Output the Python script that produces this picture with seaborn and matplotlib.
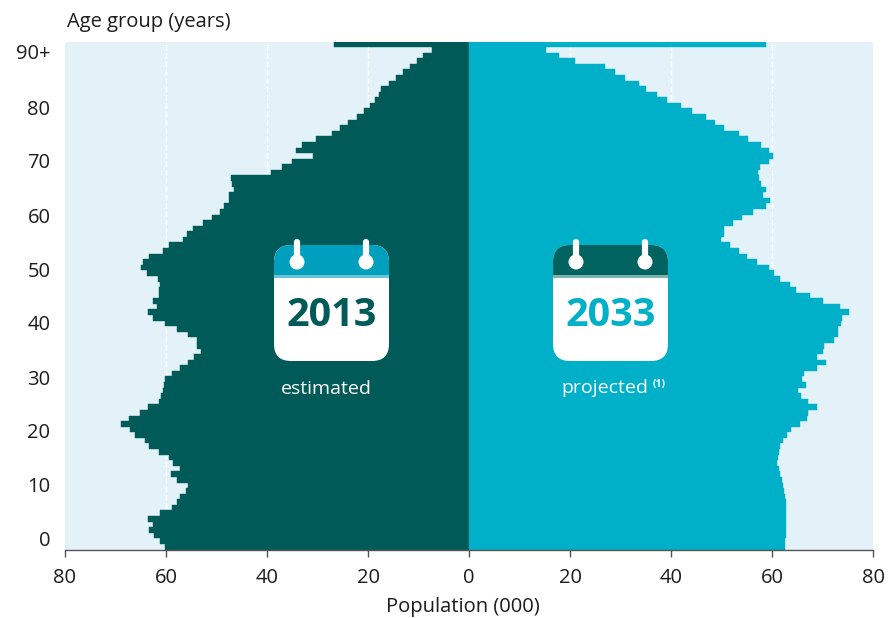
import numpy as np
import pandas as pd
import matplotlib.pyplot as plt
import seaborn as sns
from matplotlib.patches import FancyBboxPatch, Rectangle, Circle

# population (000) by single year of age, from age 0 up to 90+
ages = list(range(0, 91))
pop_2013 = [
    60.2, 61.2, 62.3, 63.3, 62.6, 63.5, 61.2, 58.9, 57.9, 57.3,
    56.0, 55.7, 57.9, 59.0, 57.3, 58.6, 59.5, 61.3, 63.3, 64.2,
    66.2, 67.2, 69.0, 67.3, 65.2, 63.5, 61.3, 61.0, 60.5, 60.4,
    60.2, 58.9, 57.3, 55.7, 54.4, 53.1, 53.8, 53.9, 55.7, 57.9,
    60.2, 62.6, 63.6, 61.8, 62.5, 61.3, 61.3, 61.2, 61.5, 63.7,
    65.0, 64.5, 63.3, 60.5, 59.5, 56.7, 55.9, 54.6, 52.6, 50.9,
    49.3, 48.5, 47.5, 47.5, 46.5, 46.9, 47.2, 39.3, 37.0, 35.0,
    30.9, 34.2, 33.1, 30.3, 27.1, 25.6, 24.0, 22.1, 20.8, 19.6,
    18.7, 17.8, 17.5, 15.8, 14.5, 13.0, 11.7, 10.3, 9.2, 7.4,
    26.7,
]
pop_2033 = [
    62.6, 62.6, 62.7, 62.7, 62.8, 62.8, 62.8, 62.8, 62.7, 62.6,
    62.4, 62.1, 62.0, 61.6, 61.3, 60.9, 61.1, 61.3, 61.5, 62.1,
    63.0, 63.7, 65.6, 67.0, 67.2, 68.9, 67.2, 65.7, 65.2, 66.7,
    66.0, 66.4, 69.0, 70.6, 69.0, 70.0, 70.3, 72.2, 73.0, 73.0,
    73.6, 73.8, 75.3, 73.5, 70.0, 67.5, 64.7, 63.5, 61.6, 60.4,
    59.4, 57.0, 55.0, 53.4, 51.7, 49.9, 50.4, 50.4, 52.2, 54.0,
    56.3, 58.8, 59.6, 58.3, 58.8, 57.8, 57.4, 57.3, 57.6, 59.4,
    60.2, 59.4, 57.8, 55.2, 53.5, 50.4, 48.7, 46.9, 44.1, 42.0,
    39.3, 37.2, 35.1, 33.6, 30.8, 29.0, 26.9, 20.9, 17.9, 15.2,
    58.8,
]
x_ticks = [-80, -60, -40, -20, 0, 20, 40, 60, 80]
x_labels = ["80", "60", "40", "20", "0", "20", "40", "60", "80"]
age_labels = ["0", "10", "20", "30", "40", "50", "60", "70", "80", "90+"]
age_label_pos = [1.43, 11.1, 20.8, 30.4, 40.1, 49.6, 59.4, 69.1, 78.6, 88.7]

DARK = "#005a58"
TEAL = "#00b0c8"
BACK = "#e3f2f8"
TEXT = "#1d1d1b"
FS = 14.5

sns.set_theme(style="white")
plt.rcParams["font.family"] = ["Open Sans", "DejaVu Sans"]

W, H = 888, 618
fig = plt.figure(figsize=(W / 100, H / 100), dpi=100)
ax = fig.add_axes([65 / W, 1 - 549.5 / H, 808 / W, 508 / H])
ax.set_facecolor(BACK)

df = pd.DataFrame({"age": ages, "left": -np.array(pop_2013), "right": pop_2033})
for col, colour in [("left", DARK), ("right", TEAL)]:
    sns.barplot(data=df, x=col, y="age", orient="y", native_scale=True, width=1,
                color=colour, saturation=1, edgecolor=colour, linewidth=0.3, ax=ax)

ax.set_xlim(-80, 80)
ax.set_ylim(-0.5, 90.5)
ax.set_xticks(x_ticks)
ax.set_xticklabels(x_labels)
ax.set_yticks(age_label_pos)
ax.set_yticklabels(age_labels)
ax.tick_params(axis="x", length=5, width=1, color="#555555", labelsize=FS,
               labelcolor=TEXT, pad=8, bottom=True)
ax.tick_params(axis="y", length=0, labelsize=FS, labelcolor=TEXT, pad=10.5)
ax.set_xlabel("Population (000)", fontsize=FS, color=TEXT, va="center")
ax.xaxis.set_label_coords(0.4926, -(607 - 549.5) / 508)
ax.set_ylabel("")

# dashed white guide lines only show on the background
ax.set_axisbelow(True)
for v in [-60, -40, -20, 20, 40, 60]:
    ax.axvline(v, color="white", lw=1, ls=(0, (4, 2)), zorder=0.5)
sns.despine(ax=ax, left=True, top=True, right=True)
ax.spines["bottom"].set_color("#555555")
ax.spines["bottom"].set_linewidth(1)

# overlay in pixel units for the title and calendar icons
ov = fig.add_axes([0, 0, 1, 1])
ov.set_xlim(0, W)
ov.set_ylim(H, 0)
ov.axis("off")
ov.patch.set_alpha(0)
ov.text(67, 22, "Age group (years)", fontsize=FS, color=TEXT, ha="left", va="center")


def calendar(left, head, band, year, year_colour):
    w, top, bottom = 115, 245, 361
    r = 17
    ov.add_patch(FancyBboxPatch((left + r, top + r), w - 2 * r, bottom - top - 2 * r,
                                boxstyle=f"round,pad={r},rounding_size={r}",
                                fc="white", ec="none"))
    ov.add_patch(FancyBboxPatch((left + r, top + r), w - 2 * r, 10,
                                boxstyle=f"round,pad={r},rounding_size={r}",
                                fc=head, ec="none"))
    ov.add_patch(Rectangle((left, 275), w, 30, fc="white", ec="none"))
    ov.add_patch(Rectangle((left, 275), w, 3, fc=band, ec="none"))
    for px in [left + 23, left + 92]:
        ov.plot([px, px], [242, 262], color="white", lw=4.5, solid_capstyle="round")
        ov.add_patch(Circle((px, 262), 7.5, fc="white", ec="none"))
    ov.text(left + 58, 316, year, fontsize=28.5, fontweight="bold", color=year_colour,
            ha="center", va="center")


calendar(274, "#009fbd", "#66c5d6", "2013", DARK)
calendar(553, "#00635f", "#7fb2ae", "2033", TEAL)

ov.text(326, 389, "estimated", fontsize=14, color="white", ha="center", va="center")
ov.text(604.5, 388, "projected", fontsize=14, color="white", ha="center", va="center")
ov.text(659, 385, "(1)", fontsize=7.5, fontweight="bold", color="white", ha="center", va="center")

fig.savefig("out.png", dpi=100, facecolor="white")
